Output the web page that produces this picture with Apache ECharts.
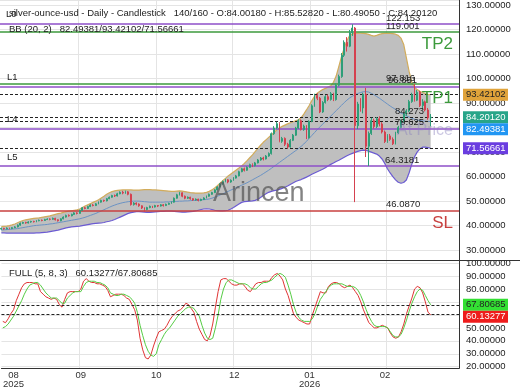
<!DOCTYPE html>
<html><head><meta charset="utf-8">
<script src="https://cdn.jsdelivr.net/npm/echarts@6/dist/echarts.min.js"></script>
<style>html,body{margin:0;padding:0;background:#fff}#c{width:520px;height:390px}</style>
</head><body><div id="c"></div>
<script>
// ---------------- data ----------------
const slotCount = 170;
const categories = Array.from({length: slotCount}, (_, i) => 'bar' + (i + 1));
const tickBars = [4, 29, 57, 86, 114, 142];
const tickLabels = ['08\n2025', '09', '10', '12', '01\n2026', '02'];
const gridBars = [29, 58, 86, 115, 143];

// [open, close, low, high]
const candles = [
[38.6,38.9,38.3,39.2],[38.9,38.7,38.4,39.1],[38.7,39.0,38.5,39.3],[39.0,38.8,38.5,39.2],[38.8,39.2,38.6,39.4],
[39.2,39.5,39.0,39.8],[39.5,40.2,39.3,40.5],[40.2,41.0,40.0,41.3],[41.0,41.3,40.7,41.6],[41.3,41.1,40.8,41.6],
[41.1,41.5,40.9,41.8],[41.5,41.7,41.2,42.0],[41.7,41.6,41.3,42.0],[41.6,42.0,41.4,42.3],[42.0,42.2,41.8,42.5],
[42.2,42.1,41.8,42.5],[42.1,42.5,41.9,42.8],[42.5,42.7,42.3,43.0],[42.7,42.6,42.2,43.0],[42.6,43.0,42.4,43.3],
[43.0,42.4,42.1,43.2],[42.4,42.0,41.7,42.6],[42.0,42.8,41.8,43.0],[42.8,43.5,42.6,43.8],[43.5,44.2,43.3,44.5],
[44.2,44.0,43.7,44.6],[44.0,44.6,43.8,44.9],[44.6,45.2,44.4,45.5],[45.2,45.0,44.6,45.5],[45.0,46.2,44.9,46.5],
[46.2,47.3,46.0,47.6],[47.3,47.0,46.7,47.7],[47.0,47.8,46.8,48.1],[47.8,48.4,47.6,48.7],[48.4,48.2,47.9,48.8],
[48.2,48.9,48.0,49.2],[48.9,49.6,48.7,49.9],[49.6,50.3,49.4,50.6],[50.3,50.1,49.7,50.6],[50.1,51.0,49.9,51.3],
[51.0,51.6,50.8,51.9],[51.6,52.3,51.4,52.6],[52.3,52.1,51.7,52.7],[52.1,53.0,51.9,53.4],[53.0,53.6,52.8,54.0],
[53.6,53.3,52.8,54.2],[53.3,53.8,53.0,54.3],[53.8,52.8,52.4,54.1],[52.8,48.6,48.2,53.1],[48.6,49.2,48.2,49.6],
[49.2,48.8,48.3,49.5],[48.8,48.1,47.7,49.1],[48.1,47.2,46.8,48.3],[47.2,46.6,45.6,47.5],[46.6,47.4,46.3,47.7],
[47.4,47.9,47.1,48.2],[47.9,47.6,47.2,48.1],[47.6,48.2,47.4,48.5],[48.2,48.0,47.6,48.4],[48.0,48.5,47.8,48.8],
[48.5,48.2,47.8,48.8],[48.2,48.7,48.0,49.0],[48.7,49.1,48.5,49.4],[49.1,49.6,48.9,49.9],[49.6,51.2,49.4,51.5],
[51.2,52.6,51.0,53.0],[52.6,53.4,52.3,53.8],[53.4,52.0,51.6,53.6],[52.0,51.2,50.8,52.3],[51.2,51.6,50.9,51.9],
[51.6,51.0,50.6,51.8],[51.0,50.5,50.1,51.2],[50.5,50.8,50.2,51.1],[50.8,50.3,49.9,51.0],[50.3,50.7,50.0,51.0],
[50.7,51.3,50.5,51.6],[51.3,52.0,51.1,52.3],[52.0,52.8,51.8,53.1],[52.8,53.5,52.6,53.8],[53.5,54.6,53.3,54.9],
[54.6,55.8,54.4,56.1],[55.8,56.9,55.6,57.3],[56.9,58.0,56.7,58.4],[58.0,58.7,57.7,59.1],[58.7,57.8,57.3,59.0],
[57.8,58.5,57.5,58.9],[58.5,59.4,58.3,59.8],[59.4,60.3,59.2,60.7],[60.3,62.0,60.1,62.4],[62.0,63.2,61.8,63.6],
[63.2,62.6,62.1,63.7],[62.6,63.8,62.4,64.2],[63.8,64.9,63.6,65.3],[64.9,64.4,63.9,65.4],[64.4,65.6,64.2,66.0],
[65.6,66.8,65.4,67.2],[66.8,67.6,66.5,68.0],[67.6,67.2,66.6,68.1],[67.2,68.4,67.0,68.8],[68.4,69.4,68.1,69.9],
[69.4,77.5,69.0,78.0],[77.5,79.8,77.0,80.6],[79.8,81.6,79.3,82.4],[81.6,74.4,74.0,82.2],[74.4,75.6,73.8,76.2],
[75.6,73.2,72.5,76.0],[73.2,72.1,71.4,73.8],[72.1,74.8,71.8,75.3],[74.8,76.9,74.5,77.4],[76.9,79.8,76.6,80.3],
[79.8,82.8,79.5,83.4],[82.8,79.2,78.8,83.3],[79.2,80.6,78.7,81.2],[80.6,75.8,75.3,81.0],[75.8,82.5,75.5,83.0],
[82.5,88.9,82.2,89.5],[88.9,93.1,88.5,93.8],[93.1,92.0,91.2,94.0],[92.0,86.4,85.9,92.5],[86.4,90.2,86.0,90.8],
[90.2,92.6,89.8,93.2],[92.6,91.5,90.8,93.5],[91.5,93.8,91.0,94.5],[93.8,91.4,90.8,94.2],[91.4,97.3,91.0,98.0],
[97.3,100.8,96.8,101.6],[100.8,109.5,100.3,110.4],[109.5,114.8,108.8,115.6],[114.8,113.2,111.0,116.9],[113.2,118.6,112.8,119.8],
[118.6,120.6,117.4,122.153],[120.6,80.8,49.6,121.0],[80.8,89.6,79.4,90.5],[89.6,88.0,86.5,92.0],[88.0,93.6,85.8,94.2],
[93.6,72.4,68.0,96.2],[72.4,77.6,64.3181,78.4],[77.6,82.8,77.0,84.0],[82.8,80.4,79.6,83.6],[80.4,83.6,79.8,84.3],
[83.6,81.5,80.5,84.6],[81.5,78.2,77.6,82.2],[78.2,74.3,73.7,78.8],[74.3,76.6,73.8,77.3],[76.6,75.2,74.6,77.4],
[75.2,73.4,72.9,76.0],[73.4,77.8,73.1,78.3],[77.8,80.1,77.4,80.7],[80.1,82.7,79.7,83.3],[82.7,85.6,82.2,86.3],
[85.6,86.8,84.8,87.5],[86.8,90.6,86.3,91.3],[90.6,93.4,90.1,94.2],[93.4,91.2,90.6,97.816],[91.2,94.4,90.8,95.3],
[94.4,89.0,88.4,95.0],[89.0,90.5,87.4,91.6],[90.5,87.2,86.6,91.0],[87.2,84.0,83.2,88.0],[84.0018,84.2012,80.4905,85.5282]
];

const bbUpper = [
39.6,39.7,39.8,40.0,40.3,40.7,41.2,41.7,42.1,42.4,
42.6,42.8,43.0,43.1,43.2,43.4,43.6,43.8,44.0,44.3,
44.6,44.9,45.1,45.4,45.7,45.9,46.1,46.3,46.5,46.8,
47.4,48.0,48.5,49.0,49.5,50.0,50.6,51.3,52.0,52.8,
53.4,53.9,54.2,54.4,54.5,54.6,54.6,54.6,54.6,54.5,
54.5,54.5,54.6,54.7,54.7,54.7,54.6,54.6,54.5,54.4,
54.3,54.2,54.1,54.0,54.0,54.1,54.2,54.1,53.9,53.7,
53.5,53.4,53.3,53.3,53.3,53.4,53.6,54.0,54.6,55.4,
56.3,57.3,58.3,59.3,60.3,61.1,61.9,62.7,63.5,64.4,
65.4,66.5,67.7,68.9,70.2,71.5,72.8,74.0,75.0,76.0,
77.0,78.0,79.0,79.8,80.5,81.0,81.5,82.0,82.4,82.8,
83.2,84.0,85.5,87.2,89.0,91.0,92.8,94.0,94.8,95.5,
96.0,96.5,97.0,98.5,101.0,105.0,109.0,112.5,115.5,117.5,
118.2,118.4,118.5,118.5,118.4,118.3,118.0,117.6,117.3,117.6,
118.0,118.3,118.4,118.4,118.4,118.3,118.1,117.6,116.5,114.0,
108.5,103.0,98.5,96.5,95.5,94.8,94.3,93.9,93.6,93.42102
];
const bbMiddle = [
38.2,38.3,38.4,38.5,38.6,38.7,38.8,39.0,39.2,39.4,
39.6,39.8,40.0,40.1,40.2,40.3,40.4,40.5,40.7,40.8,
41.0,41.2,41.4,41.6,41.8,42.0,42.2,42.4,42.6,42.8,
43.1,43.4,43.8,44.2,44.6,45.0,45.5,46.0,46.5,47.0,
47.5,48.0,48.4,48.8,49.1,49.4,49.6,49.8,49.9,50.0,
50.0,50.0,49.9,49.8,49.7,49.6,49.6,49.6,49.6,49.6,
49.6,49.7,49.7,49.8,49.9,49.9,50.0,50.0,50.1,50.1,
50.2,50.3,50.3,50.4,50.5,50.6,50.7,50.9,51.2,51.6,
52.0,52.5,53.0,53.5,54.0,54.5,55.0,55.5,56.0,56.5,
57.0,57.5,58.1,58.7,59.3,59.9,60.5,61.2,61.9,62.6,
63.4,64.2,65.0,65.8,66.6,67.4,68.2,69.0,69.8,70.6,
71.4,72.3,73.3,74.4,75.6,76.8,78.0,79.2,80.3,81.4,
82.5,83.6,84.7,85.8,86.9,88.0,89.1,90.2,91.2,92.1,
92.8,93.4,93.9,94.3,94.6,94.7,94.5,94.0,93.4,92.7,
92.0,91.2,90.4,89.6,88.8,88.1,87.4,86.7,86.0,85.4,
84.8,84.3,83.8,83.4,83.1,82.9,82.7,82.6,82.5,82.49381
];
const bbLower = [
37.1,37.1,37.0,37.0,37.0,37.0,37.0,37.0,37.0,37.0,
37.0,37.0,37.0,37.1,37.1,37.2,37.3,37.4,37.6,37.8,
38.0,38.2,38.5,38.8,39.1,39.3,39.5,39.6,39.7,39.8,
40.0,40.2,40.4,40.6,40.8,40.9,41.0,41.1,41.3,41.6,
41.8,42.1,42.5,43.0,43.5,44.0,44.5,45.0,45.3,45.5,
45.7,45.7,45.6,45.5,45.4,45.4,45.5,45.6,45.7,45.8,
45.8,45.9,45.9,45.9,45.8,45.7,45.6,45.5,45.5,45.6,
45.7,45.8,46.0,46.3,46.6,46.8,46.9,46.8,46.6,46.3,
46.1,46.0,46.0,46.1,46.3,46.8,47.4,48.1,48.8,49.5,
49.8,49.9,50.0,50.1,50.3,50.8,51.5,52.3,53.0,53.6,
54.0,54.3,54.5,54.8,55.2,55.7,56.2,56.8,57.4,58.0,
58.4,58.8,59.3,59.8,60.4,61.0,61.5,62.0,62.5,63.0,
63.6,64.3,65.0,65.6,66.2,66.7,67.3,67.9,68.5,69.0,
69.5,69.9,70.3,70.6,70.8,70.7,70.4,70.0,69.6,69.2,
68.4,67.2,65.4,63.2,61.5,60.0,58.7,57.7,57.3,57.6,
58.6,61.5,65.0,68.0,70.0,71.3,72.0,72.0,71.8,71.56661
];

const stochK = [
55,54,57,61,64,71,76,81,84,85,
85,85,84,84,78,76,74,73,72,73,
72,68,66,72,77,78,78,78,78,80,
86,88,86,85,85,84,84,83,82,79,
74,75,76,76,76,75,73,72,68,64,
56,42,33,27,26,29,36,42,47,48,
49,52,56,59,61,63,64,66,69,68,
65,62,55,49,45,41,40,44,53,66,
78,87,88,88,86,84,83,83,84,84,
82,79,78,81,84,85,85,86,86,86,
89,91,92,90,87,80,75,68,61,58,
56,55,54,53,53,60,66,72,78,77,
77,82,84,85,85,84,82,81,82,83,
81,78,75,70,64,59,54,52,50,50,
51,52,51,50,46,43,42,43,47,53,
61,67,73,80,82,81,77,70,62,60.13277
];
const stochD = [
50,51,53,56,59,63,67,71,76,80,
83,84,85,85,83,80,77,75,73,73,
73,71,69,69,73,75,77,78,78,78,
82,85,86,86,86,85,85,84,83,81,
77,76,75,75,76,76,75,74,72,69,
62,52,44,37,32,29,28,30,37,41,
45,48,50,53,56,59,61,63,65,66,
66,65,62,59,52,46,42,41,42,50,
60,72,80,85,87,87,86,85,84,84,
84,83,81,80,80,82,84,85,85,86,
87,89,91,92,91,89,83,76,68,62,
58,56,55,55,55,57,61,67,72,75,
78,81,83,84,84,84,84,83,82,82,
82,81,79,75,70,64,59,55,52,51,
51,51,51,50,47,44,43,43,45,50,
56,63,69,74,78,80,79,75,71,67.80685
];

const levelValues = [122.153, 119.001, 97.816, 96.851, 84.273, 79.625, 64.3181, 46.087];
const levelTexts = ['122.153', '119.001', '97.816', '96.851', '84.273', '79.625', '64.3181', '46.0870'];
const bbNow = {middle: 82.49381, upper: 93.42102, lower: 71.56661};
const lastClose = 84.2012;
const stochNow = {k: 60.13277, d: 67.80685};
const titleText = 'silver-ounce-usd - Daily - Candlestick   140/160 - O:84.00180 - H:85.52820 - L:80.49050 - C:84.20120';
const bbText = 'BB (20, 2)   82.49381/93.42102/71.56661';
const stochText = 'FULL (5, 8, 3)   60.13277/67.80685';

// ---------------- chart ----------------
const FONT = 'Liberation Sans, Arial, sans-serif';
const purple = '#8e4fc9', green = '#3c9a3c', red = '#c8403f';
const levelColors = [purple, green, green, purple, '#222', purple, purple, red];
const levelTypes = ['solid','solid','solid','solid',[3,2],'solid','solid','solid'];
const bandWidth = bbUpper.map((u, i) => u - bbLower[i]);

const chart = echarts.init(document.getElementById('c'), null, {renderer: 'canvas'});
const gridX = {type: 'category', data: categories, boundaryGap: true,
  axisTick: {show: false}, axisLabel: {show: false}, axisLine: {show: false},
  splitLine: {show: true, interval: (i) => gridBars.includes(i), lineStyle: {color: '#e4e4e4', width: 1}}};

const option = {
  animation: false,
  backgroundColor: '#ffffff',
  grid: [
    {left: 0, top: 0, width: 459, height: 260},
    {left: 0, top: 260.5, width: 459, height: 107.8}
  ],
  xAxis: [
    Object.assign({gridIndex: 0}, gridX),
    Object.assign({}, gridX, {gridIndex: 1,
      axisLine: {show: true, lineStyle: {color: '#333', width: 1}},
      axisLabel: {show: true, interval: (i) => tickBars.includes(i),
        formatter: (v, i) => tickLabels[tickBars.indexOf(i)] || '',
        color: '#333', fontSize: 9.5, fontFamily: FONT, lineHeight: 9, margin: 3}})
  ],
  yAxis: [
    {type: 'value', gridIndex: 0, position: 'right', min: 26, max: 132, splitNumber: 10,
      axisLine: {show: true, lineStyle: {color: '#333'}}, axisTick: {show: false},
      axisLabel: {margin: 7, color: '#222', fontSize: 9.5, fontFamily: FONT,
        showMinLabel: false, showMaxLabel: false,
        formatter: v => (Math.abs(v % 10) < 1e-6 ? v.toFixed(5) : '')},
      splitLine: {lineStyle: {color: '#e4e4e4'}}},
    {type: 'value', gridIndex: 1, position: 'right', min: 18.8, max: 102, splitNumber: 8,
      axisLine: {show: true, lineStyle: {color: '#333'}}, axisTick: {show: false},
      axisLabel: {margin: 7, color: '#222', fontSize: 9.5, fontFamily: FONT,
        showMinLabel: false, showMaxLabel: false,
        formatter: v => (Math.abs(v % 10) < 1e-6 ? v.toFixed(5) : '')},
      splitLine: {lineStyle: {color: '#e4e4e4'}}}
  ],
  series: [
    {type: 'line', name: 'bbLower', data: bbLower, stack: 'bb', symbol: 'none', z: 2,
      lineStyle: {color: '#6b5bd2', width: 1.2}},
    {type: 'line', name: 'bbBand', data: bandWidth, stack: 'bb', symbol: 'none', z: 2,
      areaStyle: {color: '#bfbfbf', opacity: 1}, lineStyle: {color: '#d2ac5c', width: 1.2}},
    {type: 'line', name: 'bbMiddle', data: bbMiddle, symbol: 'none', z: 3,
      lineStyle: {color: '#6b93c4', width: 1}},
    {type: 'candlestick', name: 'price', data: candles, barWidth: 1.4, z: 5,
      itemStyle: {color: '#2e9e78', color0: '#d5414f', borderColor: '#2e9e78', borderColor0: '#d5414f', borderWidth: 1},
      markLine: {symbol: ['none', 'none'], silent: true, animation: false, label: {show: false},
        data: levelValues.map((v, i) => ({yAxis: v, lineStyle: {color: levelColors[i], width: levelTypes[i] === 'solid' ? 1.5 : 1, type: levelTypes[i]}}))
          .concat([bbNow.upper, lastClose, bbNow.middle, bbNow.lower].map(v => ({yAxis: v, lineStyle: {color: '#222', width: 1, type: [3, 2]}})))}},
    {type: 'line', name: 'K', xAxisIndex: 1, yAxisIndex: 1, data: stochK, symbol: 'none',
      lineStyle: {color: '#e03434', width: 1},
      markLine: {symbol: ['none', 'none'], silent: true, animation: false, label: {show: false},
        data: [stochNow.d, stochNow.k].map(v => ({yAxis: v, lineStyle: {color: '#222', width: 1, type: [3, 2]}}))}},
    {type: 'line', name: 'D', xAxisIndex: 1, yAxisIndex: 1, data: stochD, symbol: 'none',
      lineStyle: {color: '#55cc44', width: 1}}
  ]
};
chart.setOption(option);

const py = v => chart.convertToPixel({yAxisIndex: 0}, v);
const sy = v => chart.convertToPixel({yAxisIndex: 1}, v);
const txt = (text, x, y, size, fill, align, extra) => Object.assign({type: 'text', x: x, y: y, z: 50,
  style: {text: text, font: size + 'px ' + FONT, fill: fill, textAlign: align || 'left', textVerticalAlign: 'middle'}}, extra || {});
const g = [];
g.push({type: 'line', z: 60, shape: {x1: 0, y1: 260.5, x2: 520, y2: 260.5}, style: {stroke: '#333', lineWidth: 1}});
g.push(txt(titleText, 9, 13, 9.5, '#222'));
g.push(txt(bbText, 9, 29.5, 9.5, '#222'));
g.push(txt(stochText, 9, 273, 9.5, '#222'));
g.push(txt('L0', 6, 14, 9.5, '#222'));
g.push(txt('L1', 7, py(levelValues[2]) - 7, 9.5, '#222'));
g.push(txt('L4', 7, py(levelValues[5]) - 9, 9.5, '#222'));
g.push(txt('L5', 7, py(levelValues[6]) - 9, 9.5, '#222'));
const levelX = [386, 386, 386, 388, 395, 395, 385, 386];
levelValues.forEach((v, i) => g.push(txt(levelTexts[i], levelX[i], py(v) - 6, 9.5, '#222')));
g.push(txt('TP2', 453, py(levelValues[1]) + 12, 17, green, 'right'));
g.push(txt('TP1', 453, py(levelValues[3]) + 12, 17, green, 'right'));
g.push(txt('SL', 453, py(levelValues[7]) + 13, 17, red, 'right'));
g.push(txt('At Price', 453, py(lastClose) + 13, 16, 'rgba(140,130,190,0.45)', 'right'));
g.push(txt('Arincen', 213, py(53.3), 27, 'rgba(90,90,90,0.75)', 'left'));

const box = (value, cy, bg, fg) => {
  g.push({type: 'rect', z: 70, shape: {x: 463, y: cy - 6, width: 45, height: 12}, style: {fill: bg}});
  g.push(txt(value.toFixed(5), 466, cy, 9.5, fg, 'left', {z: 71}));
};
let prev = -100;
[[bbNow.upper, '#e0a33a', '#222'], [lastClose, '#27a589', '#fff'], [bbNow.middle, '#2196f3', '#fff'], [bbNow.lower, '#6a3de0', '#fff']]
  .forEach(([v, bg, fg]) => { const cy = Math.max(py(v), prev + 12); prev = cy; box(v, cy, bg, fg); });
const dy = sy(stochNow.d);
box(stochNow.d, dy, '#33e033', '#222');
box(stochNow.k, Math.max(sy(stochNow.k), dy + 12), '#ee1c1c', '#fff');
chart.setOption({graphic: {elements: g}});
</script>
</body></html>
